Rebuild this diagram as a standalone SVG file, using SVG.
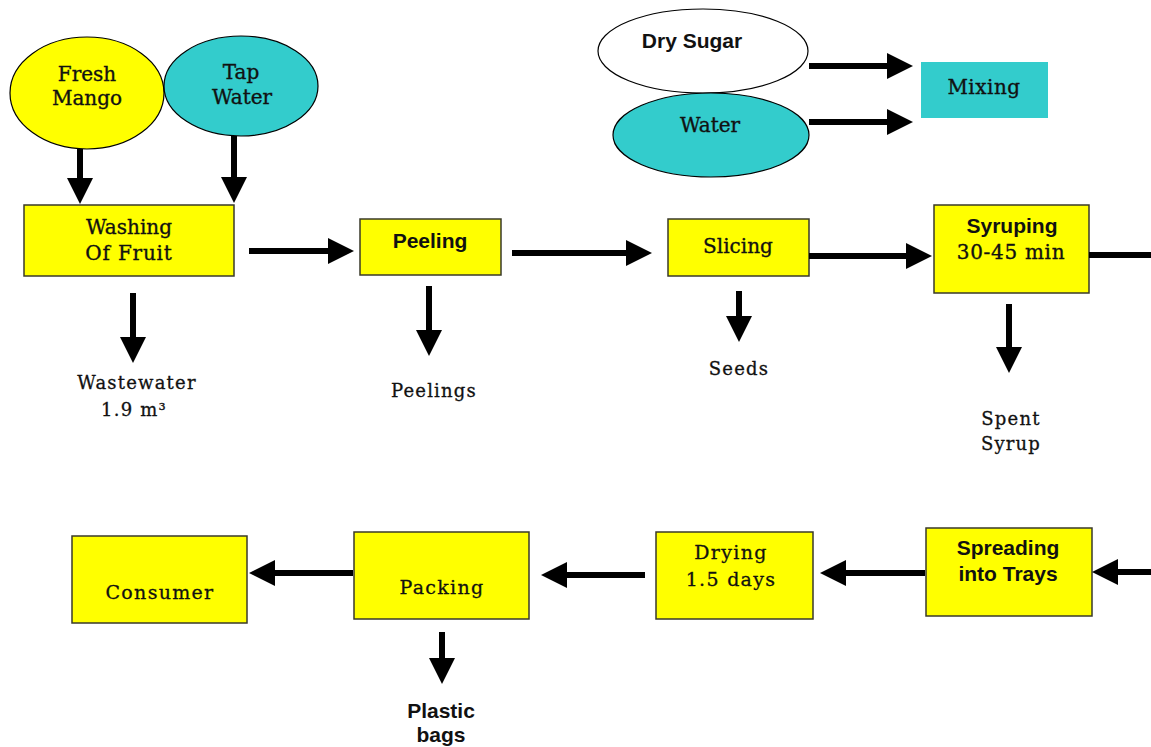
<svg xmlns="http://www.w3.org/2000/svg" width="1151" height="747" viewBox="0 0 1151 747">
  <style>
    .box { fill: #FFFF00; stroke: #3a3a2a; stroke-width: 1.5; }
    .teal { fill: #33CCCC; stroke: #000; stroke-width: 1.2; }
    .white { fill: #FFFFFF; stroke: #000; stroke-width: 1.2; }
    .serif { font-family: "DejaVu Serif", "Liberation Serif", serif; font-size: 20px; fill: #111; stroke: #111; stroke-width: 0.35px; text-anchor: middle; }
    .small { font-family: "DejaVu Serif", "Liberation Serif", serif; font-size: 18px; letter-spacing: 1.2px; fill: #111; stroke: #111; stroke-width: 0.3px; text-anchor: middle; }
    .mid { font-family: "DejaVu Serif", "Liberation Serif", serif; font-size: 19px; letter-spacing: 1.3px; fill: #111; stroke: #111; stroke-width: 0.3px; text-anchor: middle; }
    .bold { font-family: "Liberation Sans", Arial, sans-serif; font-size: 21px; font-weight: bold; fill: #111; text-anchor: middle; }
    .flow { stroke: #000; stroke-width: 6; fill: none; marker-end: url(#head); }
    .plain { stroke: #000; stroke-width: 6; fill: none; }
  </style>
  <defs>
    <marker id="head" markerUnits="userSpaceOnUse" markerWidth="26" markerHeight="26" refX="0" refY="13" orient="auto" overflow="visible">
      <path d="M0,0 L26,13 L0,26 z" fill="#000"/>
    </marker>
  </defs>
  <rect width="1151" height="747" fill="#FFFFFF"/>

  <!-- inputs -->
  <g id="fresh-mango">
    <ellipse cx="87" cy="93" rx="77" ry="56" fill="#FFFF00" stroke="#000" stroke-width="1.2"/>
    <text class="serif" x="87" y="81">Fresh</text>
    <text class="serif" x="87" y="105">Mango</text>
  </g>
  <g id="tap-water">
    <ellipse class="teal" cx="241" cy="86" rx="77" ry="50"/>
    <text class="serif" x="241" y="79">Tap</text>
    <text class="serif" x="242" y="104">Water</text>
  </g>
  <g id="dry-sugar">
    <ellipse class="white" cx="703" cy="51" rx="105" ry="42"/>
    <text class="bold" x="692" y="48">Dry Sugar</text>
  </g>
  <g id="water">
    <ellipse class="teal" cx="711" cy="135" rx="98" ry="42"/>
    <text class="serif" x="710" y="132">Water</text>
  </g>
  <g id="mixing">
    <rect x="921" y="62" width="127" height="56" fill="#33CCCC"/>
    <text class="serif" x="984" y="94" style="letter-spacing:0.5px">Mixing</text>
  </g>

  <!-- process steps, top row -->
  <g id="washing">
    <rect class="box" x="24" y="205" width="210" height="71"/>
    <text class="serif" x="129" y="234">Washing</text>
    <text class="serif" x="129" y="260" style="letter-spacing:0.8px">Of Fruit</text>
  </g>
  <g id="peeling">
    <rect class="box" x="360" y="219" width="141" height="56"/>
    <text class="bold" x="430" y="248">Peeling</text>
  </g>
  <g id="slicing">
    <rect class="box" x="668" y="219" width="141" height="57"/>
    <text class="serif" x="738" y="253">Slicing</text>
  </g>
  <g id="syruping">
    <rect class="box" x="934" y="205" width="155" height="88"/>
    <text class="bold" x="1012" y="233">Syruping</text>
    <text class="serif" x="1011" y="259" style="letter-spacing:0.7px">30-45 min</text>
  </g>

  <!-- by-products -->
  <g id="wastewater">
    <text class="small" x="137" y="389">Wastewater</text>
    <text class="small" x="134" y="416">1.9 m³</text>
  </g>
  <g id="peelings">
    <text class="small" x="434" y="397">Peelings</text>
  </g>
  <g id="seeds">
    <text class="small" x="739" y="375">Seeds</text>
  </g>
  <g id="spent-syrup">
    <text class="small" x="1011" y="425">Spent</text>
    <text class="small" x="1011" y="450">Syrup</text>
  </g>

  <!-- process steps, bottom row -->
  <g id="spreading">
    <rect class="box" x="926" y="528" width="166" height="88"/>
    <text class="bold" x="1008" y="555">Spreading</text>
    <text class="bold" x="1008" y="581">into Trays</text>
  </g>
  <g id="drying">
    <rect class="box" x="656" y="532" width="157" height="87"/>
    <text class="mid" x="731" y="559">Drying</text>
    <text class="mid" x="731" y="586">1.5 days</text>
  </g>
  <g id="packing">
    <rect class="box" x="354" y="532" width="175" height="87"/>
    <text class="mid" x="442" y="594">Packing</text>
  </g>
  <g id="consumer">
    <rect class="box" x="72" y="536" width="175" height="87"/>
    <text class="mid" x="160" y="599">Consumer</text>
  </g>
  <g id="plastic-bags">
    <text class="bold" x="441" y="718">Plastic</text>
    <text class="bold" x="441" y="742">bags</text>
  </g>

  <!-- connectors -->
  <g id="connectors">
    <line class="flow" x1="80" y1="149" x2="80" y2="178"/>
    <line class="flow" x1="234" y1="136" x2="234" y2="177"/>
    <line class="flow" x1="249" y1="251" x2="328" y2="251"/>
    <line class="flow" x1="512" y1="253" x2="626" y2="253"/>
    <line class="flow" x1="809" y1="256" x2="906" y2="256"/>
    <line class="plain" x1="1089" y1="255" x2="1151" y2="255"/>
    <line class="flow" x1="133" y1="293" x2="133" y2="337"/>
    <line class="flow" x1="429" y1="286" x2="429" y2="330"/>
    <line class="flow" x1="739" y1="291" x2="739" y2="316"/>
    <line class="flow" x1="1009" y1="304" x2="1009" y2="347"/>
    <line class="flow" x1="809" y1="66" x2="887" y2="66"/>
    <line class="flow" x1="809" y1="122" x2="887" y2="122"/>
    <line class="flow" x1="1151" y1="572" x2="1118" y2="572"/>
    <line class="flow" x1="925" y1="573" x2="846" y2="573"/>
    <line class="flow" x1="645" y1="575" x2="567" y2="575"/>
    <line class="flow" x1="353" y1="573" x2="275" y2="573"/>
    <line class="flow" x1="442" y1="632" x2="442" y2="658"/>
  </g>
</svg>
